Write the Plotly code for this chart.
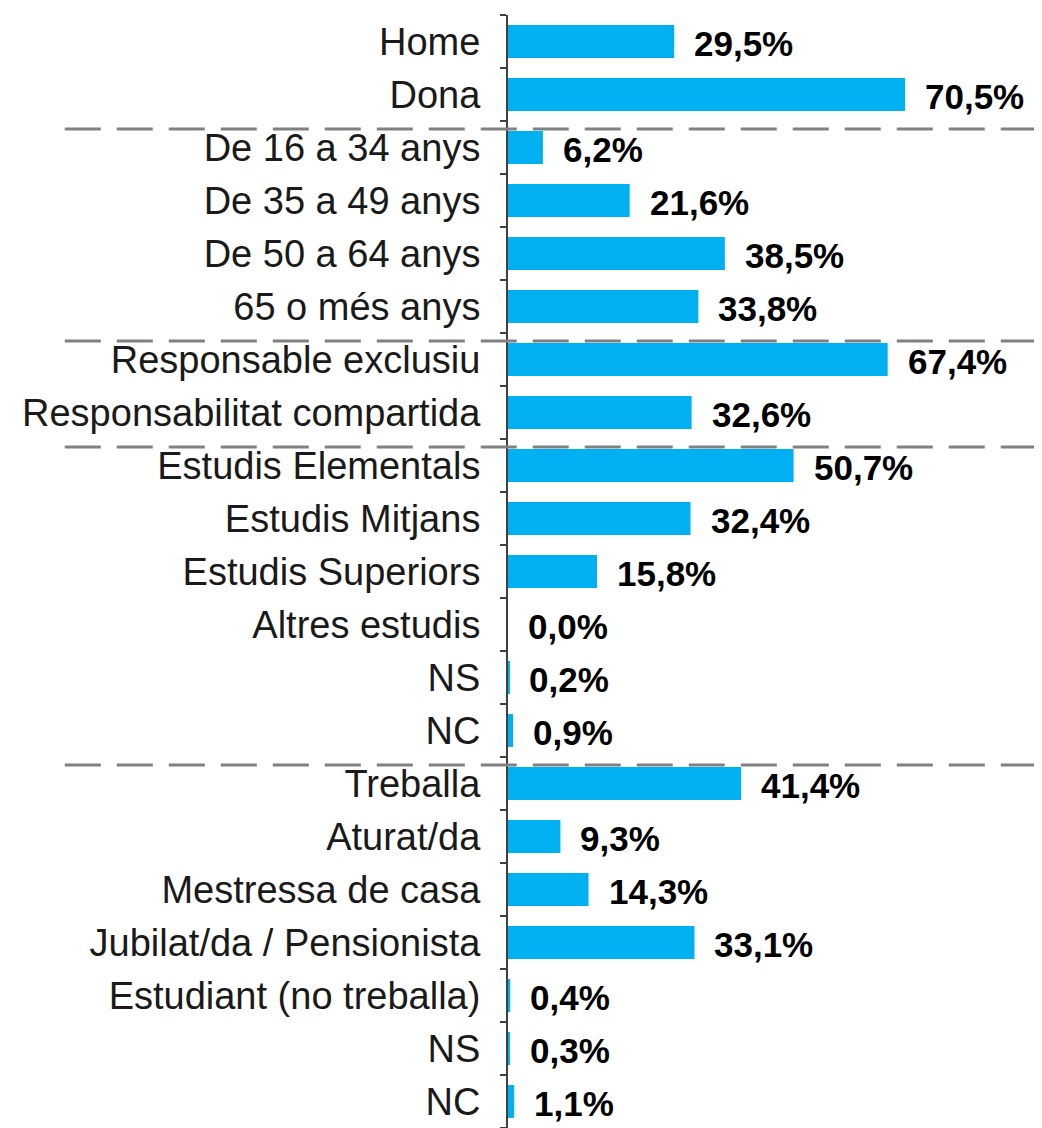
import plotly.graph_objects as go

categories = ["Home", "Dona",
              "De 16 a 34 anys", "De 35 a 49 anys", "De 50 a 64 anys", "65 o més anys",
              "Responsable exclusiu", "Responsabilitat compartida",
              "Estudis Elementals", "Estudis Mitjans", "Estudis Superiors", "Altres estudis", "NS", "NC",
              "Treballa", "Aturat/da", "Mestressa de casa", "Jubilat/da / Pensionista",
              "Estudiant (no treballa)", "NS", "NC"]
values = [29.5, 70.5,
          6.2, 21.6, 38.5, 33.8,
          67.4, 32.6,
          50.7, 32.4, 15.8, 0.0, 0.2, 0.9,
          41.4, 9.3, 14.3, 33.1, 0.4, 0.3, 1.1]
group_sizes = [2, 4, 2, 6, 7]

labels = [f"{v:.1f}".replace(".", ",") + "%" for v in values]
pos = list(range(len(categories)))

fig = go.Figure()
fig.add_trace(go.Bar(
    y=pos, x=values, orientation="h",
    marker=dict(color="#00B0F0", line=dict(width=0)),
    hoverinfo="skip",
))

for p, v, t in zip(pos, values, labels):
    fig.add_annotation(
        x=v, y=p, xref="x", yref="y", text=t, showarrow=False,
        xanchor="left", yanchor="middle", xshift=18, yshift=-2,
        font=dict(family="Liberation Sans, Arial", size=35, color="#000000", weight="bold"),
    )

# dashed separators between groups
b = -1
for g in group_sizes[:-1]:
    b += g
    yy = b + 0.5 + 0.15
    fig.add_shape(type="line", xref="paper", yref="y", x0=-0.83, x1=1.0, y0=yy, y1=yy,
                  line=dict(color="#808080", width=3, dash="36px,16px"), layer="above")

fig.update_layout(
    width=1034, height=1120,
    margin=dict(l=500, r=0, t=7, b=0, autoexpand=False),
    paper_bgcolor="white", plot_bgcolor="white",
    bargap=0.38, showlegend=False,
    xaxis=dict(range=[0, 94.8], visible=False, fixedrange=True, automargin=False),
    yaxis=dict(
        range=[len(categories) - 0.5, -0.5], automargin=False,
        tickmode="array", tickvals=pos, ticktext=categories,
        ticks="", showgrid=False, zeroline=False,
        showline=True, linecolor="#404040", linewidth=2,
        ticklabelstandoff=18,
        tickfont=dict(family="Liberation Sans, Arial", size=38, color="#1a1a1a"),
        minor=dict(tickmode="array", tickvals=[p - 0.5 for p in pos] + [len(pos) - 0.5],
                   ticks="outside", ticklen=6, tickcolor="#404040", tickwidth=2, showgrid=False),
    ),
)

fig.write_html("out.html")
